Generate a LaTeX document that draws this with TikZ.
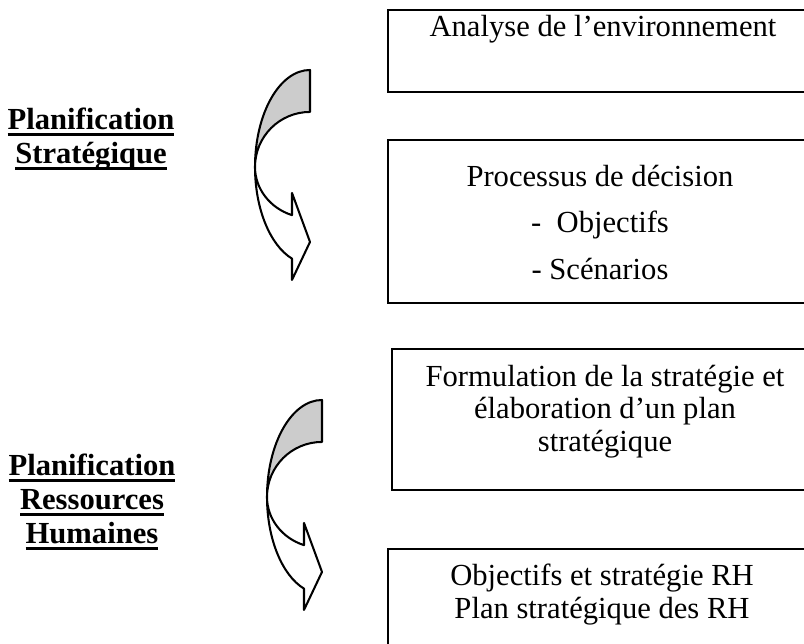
\documentclass[tikz,border=0pt]{standalone}
\usepackage{fontspec}
\setmainfont{Liberation Serif}
\usepackage{tikz}

% thick underline for the side titles
\newcommand{\ulword}[1]{\setbox0\hbox{#1}\rlap{\rule[-2.7pt]{\wd0}{1.1pt}}\box0}

% curved arrow, #1 = centre of the bend
\newcommand{\bentarrow}[1]{%
  \fill[bend shade] ([shift={(0,97)}]#1) arc[start angle=90,end angle=180,x radius=55,y radius=97]
    arc[start angle=180,end angle=90,radius=55] -- cycle;
  \draw[bend line] ([shift={(0,97)}]#1) arc[start angle=90,end angle=250.9,x radius=55,y radius=97]
    -- ++(0,-21.3) -- ++(18,38) -- ++(-18,49) -- ++(0,-22.2)
    arc[start angle=250.9,end angle=180,x radius=55,y radius=51]
    arc[start angle=180,end angle=90,radius=55] -- cycle;
}

\begin{document}
\begin{tikzpicture}
      [x=0.392pt,y=0.392pt,
       box/.style={draw,line width=0.8pt,minimum width=220pt},
       boxtext/.style={align=center,inner sep=0pt,font=\fontsize{12pt}{12.7pt}\selectfont},
       side title/.style={align=center,inner sep=0pt,font=\fontsize{12pt}{13.3pt}\selectfont\bfseries},
       bend line/.style={line width=0.8pt,line join=round},
       bend shade/.style={fill=black!20}]
        \useasboundingbox (0,0) rectangle (804,644);
        \clip (0,0) rectangle (804,644);

        % boxes run past the right edge
        \node[box,minimum height=32.1pt] (envbox) at (669,593) {};
        \node[box,minimum height=63.9pt] (decbox) at (669,422.5) {};
        \node[box,minimum height=55.3pt] (formbox) at (673,224.5) {};
        \node[box,minimum height=59.6pt] (rhbox) at (669,19) {};

        \node[boxtext] (env) at (603,615) {Analyse de l’environnement};
        \node[boxtext] (dec) at (600,421.5) {Processus de décision\\[5.7pt]
          -\ \ Objectifs\\[5.7pt]- Scénarios};
        \node[boxtext] (form) at (605,232.5) {Formulation de la stratégie et\\
          élaboration d’un plan\\stratégique};
        \node[boxtext] (rh) at (602,49.5) {Objectifs et stratégie RH\\Plan stratégique des RH};

        \node[side title] (strat) at (91,505) {\ulword{Planification}\\\ulword{Stratégique}};
        \node[side title] (grh) at (92,142)
          {\ulword{Planification}\\\ulword{Ressources}\\\ulword{Humaines}};

        \coordinate (bend1) at (310,477);
        \coordinate (bend2) at (322,147);
        \bentarrow{bend1}
        \bentarrow{bend2}

      \end{tikzpicture}
\end{document}
